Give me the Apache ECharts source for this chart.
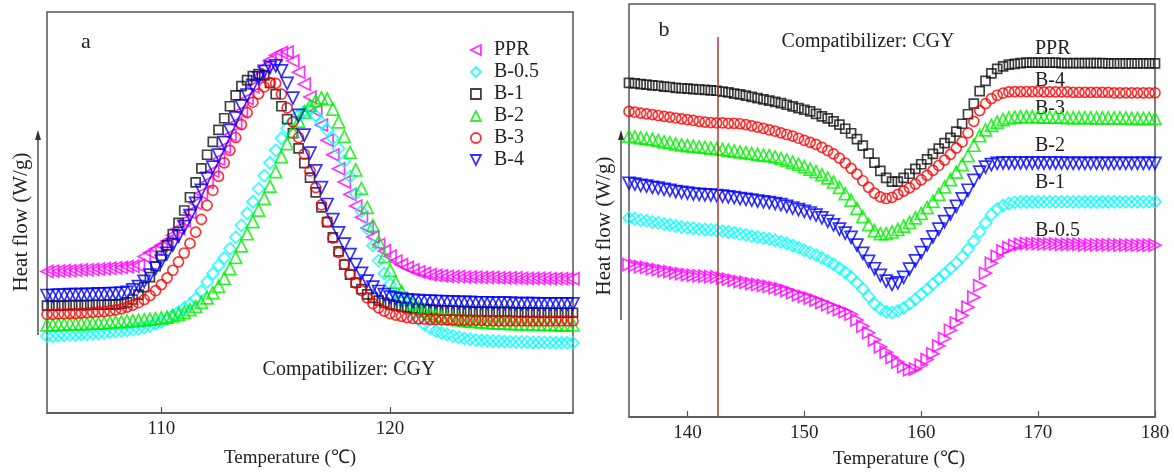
<!DOCTYPE html>
<html>
<head>
<meta charset="utf-8">
<title>DSC curves</title>
<script src="https://cdn.jsdelivr.net/npm/echarts@6/dist/echarts.min.js"></script>
<style>
  html, body { margin: 0; padding: 0; background: #fff; }
  #chart { width: 1174px; height: 474px; }
</style>
</head>
<body>
<div id="chart"></div>
<script>
// ---------- Panel a: crystallization exotherms (sampled every 0.25 °C from 105 °C) ----------
const tempAStart = 105, tempAStep = 0.25;
const aTicks = [110, 120];

const aPPR = [
  35.3,35.4,35.4,35.5,35.5,35.6,35.7,35.7,35.8,35.9,
  36.0,36.1,36.2,36.3,36.5,36.6,36.8,39.0,40.0,40.9,
  41.8,42.9,44.3,46.0,47.9,50.0,52.3,54.8,57.5,60.3,
  63.3,66.3,69.3,72.3,75.3,78.4,81.3,84.0,86.3,88.0,
  89.2,89.9,90.0,87.8,85.0,82.0,78.8,75.4,71.8,68.0,
  64.4,60.9,57.6,54.5,51.6,48.8,46.2,43.9,42.0,40.4,
  39.1,37.9,37.0,36.3,35.7,35.2,34.8,34.5,34.3,34.2,
  34.1,34.0,34.0,33.9,33.9,33.9,33.8,33.8,33.8,33.7,
  33.7,33.7,33.7,33.6,33.6,33.6,33.6,33.6,33.5,33.5,
  33.5,33.5,33.5
];
const aB05 = [
  19.2,19.2,19.3,19.4,19.5,19.5,19.6,19.7,19.8,19.9,
  20.0,20.2,20.3,20.5,20.6,20.8,21.0,21.3,21.7,22.2,
  22.7,23.4,24.3,25.2,26.2,27.2,28.5,30.4,32.7,34.8,
  36.8,38.7,41.0,43.8,46.8,49.8,52.7,55.9,59.2,62.4,
  65.5,68.5,71.0,72.8,74.2,75.2,75.6,74.2,72.4,70.6,
  68.5,66.0,62.8,59.0,54.7,50.3,46.0,41.8,38.0,34.8,
  32.1,29.9,28.0,26.2,24.7,23.3,22.1,21.2,20.5,20.0,
  19.6,19.2,18.9,18.6,18.4,18.2,18.1,18.0,17.9,17.9,
  17.8,17.8,17.7,17.7,17.7,17.6,17.6,17.6,17.6,17.5,
  17.5,17.5,17.5
];
const aB1 = [
  26.8,26.8,26.8,26.8,26.9,26.9,26.9,26.9,27.0,27.0,
  27.0,27.1,27.1,27.2,27.6,28.3,29.5,31.4,33.9,36.6,
  39.2,41.8,44.6,47.4,50.5,53.8,57.5,61.0,64.4,67.6,
  70.6,73.5,76.5,79.2,81.5,83.0,84.0,84.5,84.2,82.3,
  79.5,76.5,73.3,69.8,66.0,62.3,58.7,55.0,51.3,47.6,
  43.8,40.3,37.0,34.5,32.5,30.9,29.6,28.7,28.0,27.5,
  27.1,26.8,26.5,26.3,26.1,26.0,25.9,25.8,25.7,25.6,
  25.6,25.5,25.5,25.4,25.4,25.3,25.3,25.3,25.2,25.2,
  25.2,25.2,25.1,25.1,25.1,25.1,25.0,25.0,25.0,25.0,
  25.0,25.0,25.0
];
const aB2 = [
  22.0,22.0,22.1,22.1,22.2,22.2,22.3,22.3,22.4,22.4,
  22.5,22.6,22.7,22.8,22.9,23.0,23.1,23.2,23.4,23.5,
  23.7,23.9,24.2,24.6,25.1,25.8,26.6,27.6,28.7,30.0,
  31.6,33.6,36.0,38.8,41.7,44.7,47.7,50.6,53.5,56.6,
  60.2,63.9,67.2,70.2,72.8,75.0,76.7,77.9,78.6,78.3,
  75.8,72.6,69.0,65.0,60.6,56.0,51.3,46.8,42.7,39.0,
  35.6,32.6,30.3,28.6,27.3,26.3,25.5,24.9,24.4,24.0,
  23.7,23.4,23.2,23.0,22.9,22.8,22.7,22.6,22.5,22.4,
  22.4,22.3,22.3,22.2,22.2,22.2,22.1,22.1,22.1,22.0,
  22.0,22.0,22.0
];
const aB3 = [
  24.6,24.6,24.7,24.7,24.8,24.8,24.9,25.0,25.1,25.2,
  25.3,25.5,25.7,26.0,26.4,26.9,27.5,28.3,29.3,30.5,
  32.0,33.7,35.6,37.7,39.9,42.3,45.1,48.3,51.8,55.5,
  59.0,62.4,65.5,68.7,71.9,74.9,77.5,79.6,81.3,82.4,
  82.2,79.5,76.1,72.6,68.7,64.6,60.4,56.2,51.9,47.7,
  43.6,40.0,37.1,34.6,32.4,30.5,28.7,27.3,26.2,25.4,
  24.8,24.4,24.1,23.8,23.6,23.5,23.4,23.3,23.3,23.2,
  23.2,23.2,23.1,23.1,23.1,23.1,23.1,23.0,23.0,23.0,
  23.0,23.0,23.0,23.0,23.0,23.0,23.0,23.0,23.0,23.0,
  23.0,23.0,23.0
];
const aB4 = [
  29.3,29.3,29.4,29.4,29.5,29.5,29.5,29.6,29.6,29.7,
  29.7,29.8,29.8,29.9,30.1,30.7,31.5,32.8,34.4,36.1,
  37.9,39.8,41.9,44.1,46.5,49.2,52.3,55.5,58.5,61.3,
  64.3,67.4,70.5,73.6,76.6,79.3,81.7,83.6,85.2,86.2,
  86.6,85.3,82.2,78.5,74.2,69.3,64.8,60.4,56.2,52.0,
  48.2,44.9,42.1,39.5,37.0,34.8,32.9,31.4,30.3,29.5,
  28.9,28.6,28.4,28.2,28.1,28.0,27.9,27.9,27.8,27.8,
  27.7,27.7,27.6,27.6,27.6,27.5,27.5,27.5,27.4,27.4,
  27.4,27.4,27.3,27.3,27.3,27.3,27.2,27.2,27.2,27.2,
  27.2,27.2,27.2
];

// ---------- Panel b: melting endotherms (sampled every 0.5 °C from 135 °C) ----------
const tempBStart = 135, tempBStep = 0.5;
const bTicks = [140, 150, 160, 170, 180];
const bGuideTemp = 142.6;      // vertical reference line
const bGuideTop = 92;          // upper end of the reference line

const bPPR = [
  80.9,80.8,80.6,80.5,80.3,80.2,80.0,79.9,79.7,79.6,
  79.5,79.4,79.3,79.2,79.1,79.0,78.8,78.6,78.3,78.1,
  77.8,77.5,77.2,76.9,76.6,76.3,76.0,75.6,75.2,74.8,
  74.4,74.0,73.4,72.8,72.3,71.6,70.8,69.8,68.7,67.3,
  65.7,63.8,61.6,59.6,57.9,57.0,57.0,57.9,58.9,60.1,
  61.2,62.4,63.7,65.0,66.3,67.6,69.1,71.0,73.3,75.9,
  78.9,81.4,83.2,84.3,84.9,85.3,85.5,85.7,85.8,85.8,
  85.8,85.8,85.8,85.8,85.7,85.7,85.7,85.7,85.7,85.7,
  85.7,85.7,85.6,85.6,85.6,85.6,85.6,85.6,85.6,85.6,
  85.6
];
const bB4 = [
  74.0,73.8,73.6,73.4,73.2,73.0,72.8,72.6,72.4,72.2,
  72.0,71.8,71.6,71.4,71.3,71.2,71.2,71.1,71.1,71.0,
  70.8,70.5,70.2,69.9,69.5,69.2,68.8,68.4,68.0,67.5,
  67.0,66.5,66.0,65.3,64.5,63.7,62.7,61.5,60.2,58.8,
  57.2,55.6,54.2,53.3,52.9,53.2,53.9,54.7,55.5,56.4,
  57.4,58.5,59.7,60.9,62.2,63.6,65.1,66.6,68.8,71.6,
  74.2,75.9,77.1,77.9,78.4,78.7,78.8,78.8,78.8,78.8,
  78.8,78.7,78.7,78.7,78.7,78.7,78.6,78.6,78.6,78.6,
  78.6,78.6,78.6,78.5,78.5,78.5,78.5,78.5,78.5,78.5,
  78.5
];
const bB3 = [
  68.0,67.8,67.6,67.4,67.2,67.0,66.6,66.4,66.1,65.9,
  65.7,65.6,65.4,65.3,65.1,65.0,64.8,64.6,64.4,64.2,
  64.0,63.8,63.6,63.4,63.3,63.0,62.6,62.2,61.7,61.2,
  60.6,60.0,59.4,58.7,57.9,56.9,55.6,54.1,52.5,50.5,
  48.5,46.6,45.1,44.4,44.4,44.8,45.4,46.2,47.1,48.2,
  49.3,50.7,52.2,53.9,55.7,57.5,59.3,61.1,63.3,65.8,
  68.1,69.5,70.6,71.4,72.0,72.4,72.6,72.7,72.7,72.7,
  72.7,72.6,72.6,72.6,72.6,72.5,72.5,72.5,72.5,72.5,
  72.4,72.4,72.4,72.4,72.4,72.4,72.3,72.3,72.3,72.3,
  72.3
];
const bB2 = [
  56.6,56.4,56.1,55.9,55.6,55.4,55.1,54.9,54.6,54.4,
  54.2,54.0,53.9,53.8,53.7,53.6,53.5,53.3,53.1,52.9,
  52.7,52.5,52.3,52.1,51.9,51.7,51.4,51.0,50.6,50.2,
  49.8,49.4,48.9,48.2,47.4,46.5,45.5,44.5,43.5,41.6,
  39.6,37.7,35.9,34.3,32.9,32.1,32.5,33.8,35.8,37.8,
  39.8,41.7,43.6,45.5,47.3,49.2,51.0,52.8,54.9,57.3,
  59.3,60.5,61.1,61.4,61.5,61.5,61.5,61.5,61.5,61.5,
  61.5,61.5,61.5,61.5,61.5,61.4,61.4,61.4,61.4,61.4,
  61.4,61.4,61.4,61.4,61.4,61.4,61.4,61.4,61.4,61.4,
  61.4
];
const bB1 = [
  48.2,48.0,47.7,47.5,47.2,47.0,46.7,46.5,46.2,46.0,
  45.8,45.7,45.5,45.4,45.3,45.2,45.0,44.8,44.6,44.3,
  44.1,43.8,43.6,43.3,43.1,42.8,42.4,42.0,41.5,41.0,
  40.4,39.8,39.2,38.5,37.8,37.0,36.0,35.0,33.9,32.5,
  31.0,29.2,27.4,26.2,25.5,25.3,25.7,26.4,27.4,28.5,
  29.7,30.9,32.2,33.4,34.7,36.0,37.3,38.8,40.6,42.6,
  44.8,47.0,49.0,50.4,51.2,51.7,52.0,52.1,52.1,52.1,
  52.1,52.1,52.1,52.1,52.1,52.1,52.1,52.1,52.1,52.1,
  52.1,52.1,52.1,52.1,52.1,52.1,52.1,52.1,52.1,52.1,
  52.1
];
const bB05 = [
  36.9,36.7,36.4,36.2,35.9,35.7,35.4,35.2,34.9,34.7,
  34.5,34.3,34.2,34.1,34.0,33.9,33.6,33.4,33.1,32.8,
  32.6,32.3,32.1,31.9,31.6,31.3,31.0,30.6,30.1,29.6,
  29.2,28.8,28.3,27.7,27.2,26.6,26.0,25.5,24.9,23.5,
  22.0,20.4,18.7,17.0,15.7,14.4,13.3,12.2,11.4,11.6,
  12.6,13.9,15.3,17.2,19.0,21.0,22.8,24.6,26.6,29.0,
  31.8,34.8,37.2,38.9,40.2,41.0,41.5,41.8,42.0,42.0,
  42.0,41.9,41.9,41.9,41.8,41.8,41.8,41.8,41.7,41.7,
  41.7,41.7,41.7,41.7,41.6,41.6,41.6,41.6,41.6,41.6,
  41.6
];

// ---------- Appearance ----------
const FONT = '"Liberation Serif", "Times New Roman", serif';
const INK = '#222';
const FRAME = '#555';
const C = { magenta: '#ff00ff', cyan: '#00ffff', black: '#111111', green: '#00ee00', red: '#ff0000', blue: '#0000ff' };

// series styles; rotation is counter-clockwise in degrees
const panelA = [
  { name: 'PPR',   values: aPPR, color: C.magenta, symbol: 'triangle', rotate: 90,  size: 12, icon: 'path://M10,0 L10,10 L0,5 Z' },
  { name: 'B-0.5', values: aB05, color: C.cyan,    symbol: 'diamond',  rotate: 0,   size: 12, icon: 'diamond' },
  { name: 'B-1',   values: aB1,  color: C.black,   symbol: 'rect',     rotate: 0,   size: 9,  icon: 'rect' },
  { name: 'B-2',   values: aB2,  color: C.green,   symbol: 'triangle', rotate: 0,   size: 12, icon: 'triangle' },
  { name: 'B-3',   values: aB3,  color: C.red,     symbol: 'circle',   rotate: 0,   size: 10, icon: 'circle' },
  { name: 'B-4',   values: aB4,  color: C.blue,    symbol: 'triangle', rotate: 180, size: 12, icon: 'path://M0,0 L10,0 L5,10 Z' }
];
const panelB = [
  { name: 'PPR (b)',   label: 'PPR',   values: bPPR, color: C.black,   symbol: 'rect',     rotate: 0,   size: 9 },
  { name: 'B-4 (b)',   label: 'B-4',   values: bB4,  color: C.red,     symbol: 'circle',   rotate: 0,   size: 10 },
  { name: 'B-3 (b)',   label: 'B-3',   values: bB3,  color: C.green,   symbol: 'triangle', rotate: 0,   size: 12 },
  { name: 'B-2 (b)',   label: 'B-2',   values: bB2,  color: C.blue,    symbol: 'triangle', rotate: 180, size: 12 },
  { name: 'B-1 (b)',   label: 'B-1',   values: bB1,  color: C.cyan,    symbol: 'diamond',  rotate: 0,   size: 12 },
  { name: 'B-0.5 (b)', label: 'B-0.5', values: bB05, color: C.magenta, symbol: 'triangle', rotate: -90, size: 12 }
];
// curve labels inside panel b (left edge x, centre y in px)
const panelBLabelPos = [[1035, 49], [1035, 81], [1035, 109], [1035, 146], [1035, 183], [1035, 231]];

function toPoints(start, step, values) {
  return values.map((v, i) => [+(start + i * step).toFixed(2), v]);
}

function makeSeries(def, axisIndex, start, step) {
  return {
    type: 'scatter',
    name: def.name,
    xAxisIndex: axisIndex,
    yAxisIndex: axisIndex,
    data: toPoints(start, step, def.values),
    symbol: def.symbol,
    symbolSize: def.size,
    symbolRotate: def.rotate,
    itemStyle: { color: 'rgba(0,0,0,0)', borderColor: def.color, borderWidth: 1.7 },
    emphasis: { disabled: true },
    silent: true,
    animation: false
  };
}

const series = [];
panelA.forEach(d => series.push(makeSeries(d, 0, tempAStart, tempAStep)));
panelB.forEach(d => series.push(makeSeries(d, 1, tempBStart, tempBStep)));

// vertical guide line in panel b
series[panelA.length].markLine = {
  silent: true,
  symbol: ['none', 'none'],
  label: { show: false },
  lineStyle: { color: '#b03a35', width: 1.5, type: 'solid' },
  data: [[{ coord: [bGuideTemp, 0] }, { coord: [bGuideTemp, bGuideTop] }]],
  animation: false
};

function xAxisDef(gridIndex, min, max, ticks) {
  return {
    gridIndex, type: 'value', min, max,
    axisLine: { show: true, lineStyle: { color: FRAME, width: 1.5 } },
    axisTick: { show: true, inside: true, length: 6, customValues: ticks, lineStyle: { color: FRAME, width: 1.2 } },
    axisLabel: { customValues: ticks, margin: 7, fontFamily: FONT, fontSize: 19, color: INK, showMaxLabel: true, showMinLabel: true },
    splitLine: { show: false }
  };
}
function yAxisDef(gridIndex) {
  return { gridIndex, type: 'value', min: 0, max: 100, show: false };
}

function text(x, y, str, size, extra) {
  return Object.assign({
    type: 'text', x, y, silent: true,
    style: Object.assign({
      text: str, font: size + 'px ' + FONT, fill: INK,
      textAlign: 'center', textVerticalAlign: 'middle', align: 'center', verticalAlign: 'middle'
    }, (extra && extra.style) || {})
  }, extra ? { rotation: extra.rotation || 0 } : {});
}
function arrow(x, yBottom, yTop) {
  return [
    { type: 'line', silent: true, shape: { x1: x, y1: yBottom, x2: x, y2: yTop + 8 }, style: { stroke: '#333', lineWidth: 1.3 } },
    { type: 'polygon', silent: true, shape: { points: [[x, yTop], [x - 3, yTop + 10], [x + 3, yTop + 10]] }, style: { fill: '#333' } }
  ];
}

const graphic = [
  text(86, 42, 'a', 22),
  text(664, 30, 'b', 22),
  text(349, 370, 'Compatibilizer: CGY', 20),
  text(868, 42, 'Compatibilizer: CGY', 20),
  text(290, 458, 'Temperature (℃)', 19),
  text(899, 459, 'Temperature (℃)', 19),
  text(21, 222, 'Heat flow (W/g)', 21, { rotation: Math.PI / 2 }),
  text(604, 226, 'Heat flow (W/g)', 21, { rotation: Math.PI / 2 }),
  ...arrow(38, 335, 130),
  ...arrow(621, 320, 130)
];
panelB.forEach((d, i) => {
  graphic.push(text(panelBLabelPos[i][0], panelBLabelPos[i][1], d.label, 20, { style: { textAlign: 'left', align: 'left' } }));
});

const option = {
  backgroundColor: '#fff',
  animation: false,
  grid: [
    { left: 47, top: 12, width: 526, height: 401, show: true, borderColor: FRAME, borderWidth: 1.5, backgroundColor: 'transparent', outerBoundsMode: 'none' },
    { left: 629, top: 4, width: 526, height: 413, show: true, borderColor: FRAME, borderWidth: 1.5, backgroundColor: 'transparent', outerBoundsMode: 'none' }
  ],
  xAxis: [xAxisDef(0, 105, 128, aTicks), xAxisDef(1, 135, 180, bTicks)],
  yAxis: [yAxisDef(0), yAxisDef(1)],
  legend: {
    show: true,
    orient: 'vertical',
    left: 465, top: 35,
    itemWidth: 10, itemHeight: 10, itemGap: 2,
    selectedMode: false,
    symbolRotate: 0,
    textStyle: { fontFamily: FONT, fontSize: 20, color: INK, padding: [0, 0, 0, 8] },
    data: panelA.map(d => ({
      name: d.name,
      icon: d.icon,
      symbolRotate: 0,
      itemStyle: { color: 'rgba(0,0,0,0)', borderColor: d.color, borderWidth: 1.8 }
    }))
  },
  tooltip: { show: false },
  series,
  graphic
};

const chart = echarts.init(document.getElementById('chart'), null, { renderer: 'canvas' });
chart.setOption(option);
</script>
</body>
</html>
